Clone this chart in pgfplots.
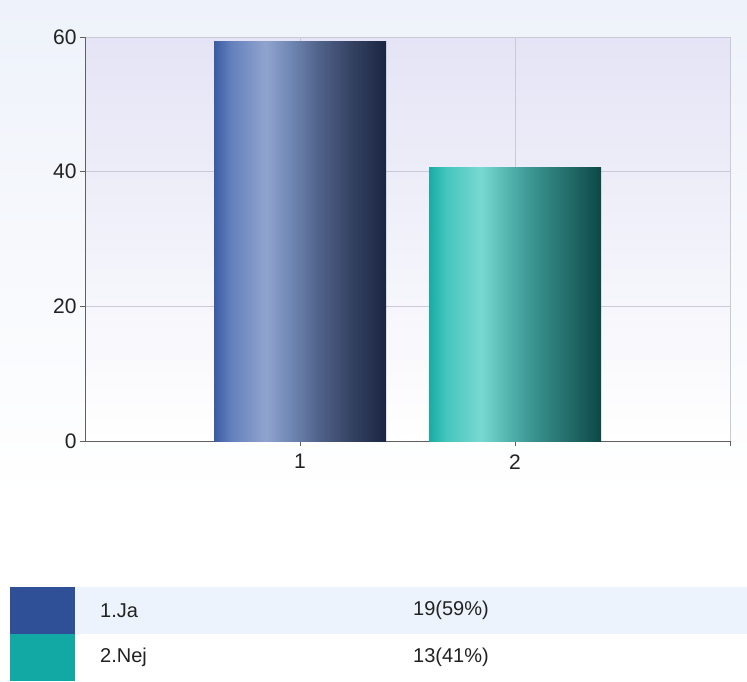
\documentclass[border=0pt]{standalone}
\usepackage{pgfplots}
\pgfplotsset{compat=1.18}
\usepackage{fontspec}
\setmainfont{Liberation Sans}

\definecolor{bgtop}{HTML}{EEF2FA}
\definecolor{plottop}{HTML}{E4E4F6}
\definecolor{gridc}{HTML}{C9CAD6}
\definecolor{axc}{HTML}{606060}
\definecolor{txt}{HTML}{222222}
\definecolor{rowbg}{HTML}{EDF3FC}
\definecolor{swA}{HTML}{2F5096}
\definecolor{swB}{HTML}{12A9A5}
% bar 1 colours
\definecolor{ba0}{HTML}{3A5CA4}
\definecolor{ba1}{HTML}{6480BC}
\definecolor{ba2}{HTML}{90A4CE}
\definecolor{ba3}{HTML}{7088B4}
\definecolor{ba4}{HTML}{52648C}
\definecolor{ba5}{HTML}{344262}
\definecolor{ba6}{HTML}{1A2542}
% bar 2 colours
\definecolor{bb0}{HTML}{18ACA4}
\definecolor{bb1}{HTML}{44C6BE}
\definecolor{bb2}{HTML}{78D8D2}
\definecolor{bb3}{HTML}{58B8B2}
\definecolor{bb4}{HTML}{3A9490}
\definecolor{bb5}{HTML}{246E6C}
\definecolor{bb6}{HTML}{0C4846}

\pgfdeclarehorizontalshading{barblue}{100bp}{color(0bp)=(ba0); color(25bp)=(ba0); color(30bp)=(ba1); color(40bp)=(ba2); color(47bp)=(ba3); color(55bp)=(ba4); color(65bp)=(ba5); color(75bp)=(ba6); color(100bp)=(ba6)}
\pgfdeclarehorizontalshading{barteal}{100bp}{color(0bp)=(bb0); color(25bp)=(bb0); color(30bp)=(bb1); color(40bp)=(bb2); color(47bp)=(bb3); color(55bp)=(bb4); color(65bp)=(bb5); color(75bp)=(bb6); color(100bp)=(bb6)}

\begin{document}
\begin{tikzpicture}[x=1pt,y=1pt]
\path[use as bounding box] (0,0) rectangle (747,681);
\fill[white] (0,0) rectangle (747,681);
\shade[top color=bgtop, bottom color=white] (0,181) rectangle (747,681);

\begin{axis}[
  at={(85pt,240pt)}, anchor=south west,
  scale only axis, width=645pt, height=404pt,
  xmin=0, xmax=3, ymin=0, ymax=60,
  xtick={1,2,3}, xticklabels={1,2,{}},
  ytick={0,20,40,60},
  axis x line*=bottom, axis y line*=left,
  axis line style={draw=axc, line width=0.9pt, -},
  tick align=outside, major tick length=5pt,
  tick style={draw=axc, line width=0.9pt},
  grid=major, major grid style={draw=gridc, line width=0.8pt},
  axis background/.style={shade, top color=plottop, bottom color=white},
  tick label style={font=\fontsize{21}{24}\selectfont, text=txt},
  xticklabel style={yshift=-5pt},
  /pgf/number format/assume math mode=true,
  clip=false,
]
\addplot[ybar, bar width=0.8, bar shift=0pt, draw=none, shading=barblue, shading angle=0] coordinates {(1,59.4)};
\addplot[ybar, bar width=0.8, bar shift=0pt, draw=none, shading=barteal, shading angle=0] coordinates {(2,40.6)};
\end{axis}

% legend table
\fill[rowbg] (75,47) rectangle (747,94);
\fill[swA] (10,47) rectangle (75,94);
\fill[swB] (10,0) rectangle (75,47);
\begin{scope}[every node/.style={anchor=west, text=txt, font=\fontsize{20}{23}\selectfont, inner sep=0pt}]
\node at (100,70.5) {1.Ja};
\node at (413,70.5) {19(59\%)};
\node at (100,23.5) {2.Nej};
\node at (413,23.5) {13(41\%)};
\end{scope}
\end{tikzpicture}
\end{document}
